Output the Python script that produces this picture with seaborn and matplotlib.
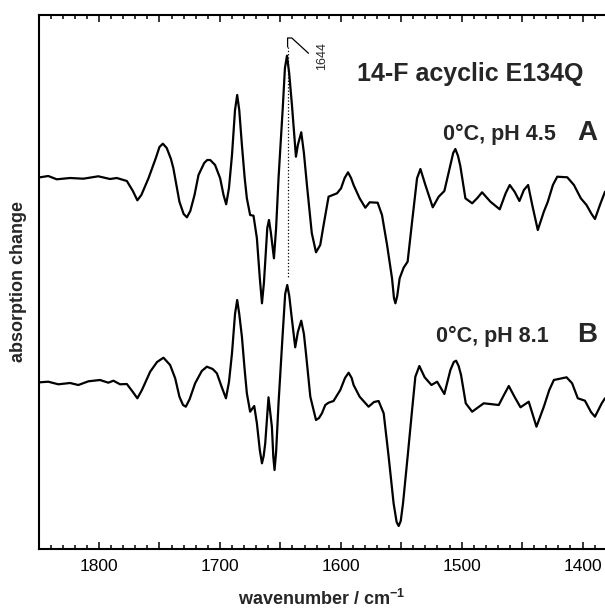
import matplotlib
matplotlib.use("Agg")
import matplotlib.pyplot as plt
from matplotlib.ticker import MultipleLocator, FuncFormatter
import numpy as np
import pandas as pd
import seaborn as sns

# spectrum A: 0°C, pH 4.5 (wavenumber / cm-1, absorption change, arb. units)
wn_a = [1848.8, 1842, 1835, 1824, 1813, 1800.6, 1790.9, 1785.3, 1777, 1772,
        1768.3, 1765, 1759.1, 1753, 1750, 1747.2, 1744, 1740.5, 1738.5, 1737,
        1733.5, 1730, 1727.3, 1724.5, 1721, 1717.7, 1713, 1710.5, 1708, 1704,
        1699.8, 1697, 1694.8, 1692.5, 1690, 1687.5, 1685.7, 1684, 1681.8, 1679.5,
        1677.7, 1675, 1672.2, 1669.4, 1667, 1665.2, 1663.6, 1662.5, 1660.8, 1659.4,
        1657.8, 1655.3, 1653.5, 1651.5, 1648, 1646.2, 1644.5, 1642.7, 1640.4, 1637.1,
        1635.5, 1632.7, 1630.5, 1628, 1624, 1620.5, 1617, 1614.2, 1610.1, 1603.1,
        1599.8, 1596.8, 1594, 1591.5, 1589.4, 1584.4, 1579.7, 1576.1, 1569.5, 1565.9,
        1561.7, 1557.6, 1556, 1554.8, 1553.3, 1551.3, 1548, 1544.7, 1541, 1536.9,
        1534.1, 1530, 1523.9, 1519, 1514.3, 1509.3, 1507, 1505.2, 1503, 1501.1,
        1496.9, 1491.3, 1487, 1483.1, 1476.2, 1468.5, 1463.5, 1460.2, 1456.2, 1452.2,
        1448.5, 1445, 1441.6, 1437, 1432, 1428.7, 1424.5, 1420.9, 1412.6, 1407.1,
        1401.4, 1396.7, 1392.5, 1389.7, 1385.6, 1381.4]
abs_a = [0.007, 0.02, -0.013, 0.0, -0.007, 0.017, -0.01, 0.0, -0.03, -0.13,
         -0.223, -0.17, -0.003, 0.2, 0.31, 0.343, 0.3, 0.19, 0.097, -0.003,
         -0.237, -0.36, -0.393, -0.33, -0.17, 0.03, 0.15, 0.18, 0.18, 0.13,
         -0.003, -0.17, -0.263, -0.1, 0.23, 0.68, 0.83, 0.68, 0.33, 0.0,
         -0.203, -0.37, -0.377, -0.603, -1.0, -1.253, -1.05, -0.837, -0.5, -0.42,
         -0.55, -0.803, -0.5, -0.003, 0.7, 1.1, 1.223, 1.05, 0.73, 0.213,
         0.33, 0.457, 0.25, -0.07, -0.55, -0.743, -0.67, -0.47, -0.187, -0.153,
         -0.103, 0.0, 0.057, 0.0, -0.07, -0.203, -0.297, -0.243, -0.247, -0.37,
         -0.67, -1.003, -1.2, -1.253, -1.18, -1.003, -0.897, -0.837, -0.437, -0.003,
         0.09, -0.07, -0.293, -0.187, -0.13, 0.13, 0.25, 0.29, 0.22, 0.12,
         -0.203, -0.253, -0.2, -0.143, -0.237, -0.313, -0.15, -0.07, -0.137, -0.23,
         -0.12, -0.07, -0.27, -0.52, -0.337, -0.237, -0.07, 0.013, 0.007, -0.07,
         -0.203, -0.27, -0.36, -0.41, -0.27, -0.137]

# spectrum B: 0°C, pH 8.1
wn_b = [1848.8, 1842, 1833.7, 1824, 1817.1, 1808.8, 1799.2, 1792.3, 1788.1, 1782.6,
        1777, 1772, 1768.3, 1764.5, 1757.7, 1752, 1746.7, 1741.2, 1737, 1733.5,
        1730.5, 1728.2, 1725, 1720.5, 1715, 1710.8, 1706, 1702.5, 1698.5, 1695,
        1692.5, 1690, 1687.5, 1685.7, 1684, 1681.8, 1679.5, 1677.7, 1675, 1671.6,
        1669.4, 1667, 1665.2, 1663.8, 1662.5, 1659.8, 1657, 1655.8, 1654.8, 1653.5,
        1651.5, 1648.2, 1646, 1644.3, 1642.6, 1641, 1637.7, 1635.5, 1632.7, 1630.5,
        1628.8, 1625.2, 1620.5, 1618, 1615.6, 1612.8, 1610.1, 1606, 1600.4, 1596.5,
        1593.5, 1591, 1589.4, 1584.4, 1577, 1572.5, 1568.7, 1564.5, 1560.4, 1556.3,
        1553.8, 1552.1, 1550.4, 1548.5, 1544.7, 1541, 1538.3, 1535, 1530.6, 1525,
        1520.3, 1514.3, 1509.3, 1506.5, 1504.6, 1502.5, 1500.5, 1496.6, 1491.3, 1486,
        1481.7, 1469.3, 1465, 1461, 1456.3, 1451.3, 1444.5, 1438.1, 1432, 1427.5,
        1423.7, 1413.2, 1408.6, 1403.9, 1398, 1393, 1389.7, 1384.1, 1381.4]
abs_b = [-0.003, 0.003, -0.023, -0.01, -0.03, 0.007, 0.02, -0.007, 0.013, -0.023,
         -0.02, -0.1, -0.163, -0.08, 0.103, 0.2, 0.243, 0.17, 0.037, -0.147,
         -0.23, -0.247, -0.17, -0.013, 0.11, 0.153, 0.13, 0.087, -0.05, -0.163,
         0.0, 0.287, 0.68, 0.82, 0.68, 0.453, 0.12, -0.113, -0.297, -0.24,
         -0.413, -0.68, -0.813, -0.74, -0.613, -0.153, -0.447, -0.75, -0.88, -0.7,
         -0.213, 0.453, 0.88, 0.97, 0.86, 0.687, 0.347, 0.5, 0.613, 0.48,
         0.287, -0.147, -0.38, -0.36, -0.313, -0.23, -0.207, -0.19, -0.08, 0.04,
         0.093, 0.04, -0.03, -0.147, -0.247, -0.2, -0.19, -0.313, -0.747, -1.213,
         -1.4, -1.44, -1.39, -1.213, -0.747, -0.28, 0.053, 0.16, 0.047, -0.03,
         0.003, -0.12, 0.12, 0.2, 0.213, 0.16, 0.07, -0.213, -0.297, -0.25,
         -0.213, -0.23, -0.13, -0.04, -0.147, -0.253, -0.197, -0.447, -0.247, -0.08,
         0.02, 0.047, -0.013, -0.163, -0.187, -0.3, -0.347, -0.213, -0.163]

offset_b = -2.04

sns.set_theme(style="ticks")
plt.rcParams['font.family'] = ['Liberation Sans', 'DejaVu Sans']
plt.rcParams['mathtext.fontset'] = 'custom'
plt.rcParams['mathtext.rm'] = 'Liberation Sans'
plt.rcParams['mathtext.bf'] = 'Liberation Sans:bold'

fig = plt.figure(figsize=(6.05, 6.10), dpi=100)
ax = fig.add_axes([38.6 / 605, 61 / 610, (605 - 38.6) / 605, 534 / 610])

df_a = pd.DataFrame({'wn': wn_a, 'dA': abs_a})
df_b = pd.DataFrame({'wn': wn_b, 'dA': np.array(abs_b) + offset_b})
for df in (df_a, df_b):
    sns.lineplot(data=df, x='wn', y='dA', color='black', lw=1.6, ax=ax,
                 estimator=None, sort=False, solid_joinstyle='round', solid_capstyle='round')

# 1644 marker
ax.plot([1644, 1644], [1.31, -0.99], ls=':', lw=0.9, color='black')
ax.plot([1644, 1644, 1640.5, 1626.7], [1.31, 1.40, 1.40, 1.247], lw=0.9, color='black')
ax.text(1615.5, 1.222, '1644', rotation=90, fontsize=9, ha='center', va='center')

ax.text(1399.2, 0.97, '14-F acyclic E134Q', fontsize=18, fontweight='bold', ha='right', va='baseline')
ax.text(1422.3, 0.38, '0°C, pH 4.5', fontsize=15.5, fontweight='bold', ha='right', va='baseline')
ax.text(1387.6, 0.38, 'A', fontsize=20, fontweight='bold', ha='right', va='baseline')
ax.text(1428.2, -1.637, '0°C, pH 8.1', fontsize=15.5, fontweight='bold', ha='right', va='baseline')
ax.text(1387.6, -1.637, 'B', fontsize=20, fontweight='bold', ha='right', va='baseline')

ax.set_xlim(1850, 1381.4)
ax.set_ylim(-3.71, 1.63)
ax.set_yticks([])
ax.xaxis.set_major_locator(MultipleLocator(50))
ax.xaxis.set_minor_locator(MultipleLocator(10))
ax.xaxis.set_major_formatter(FuncFormatter(lambda v, p: f"{v:.0f}" if round(v) % 100 == 0 else ""))
ax.tick_params(axis='x', which='both', direction='in', top=True, bottom=True, width=1.1,
               labelsize=12.5, pad=7, colors='black')
ax.tick_params(axis='x', which='major', length=5)
ax.tick_params(axis='x', which='minor', length=3)

ax.set_xlabel('wavenumber / cm$^{\\mathbf{-1}}$', fontsize=13, fontweight='bold', labelpad=11)
ax.set_ylabel('absorption change', fontsize=13, fontweight='bold', labelpad=8)

for side in ['left', 'top', 'bottom']:
    ax.spines[side].set_linewidth(1.5)
    ax.spines[side].set_color('black')
ax.spines['right'].set_visible(False)

fig.savefig('out.png', dpi=100)
